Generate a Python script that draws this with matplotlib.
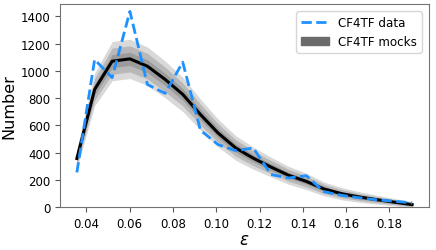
import numpy as np
import matplotlib.pyplot as plt
from matplotlib.patches import Patch

# bin centres in epsilon
eps = [0.0356, 0.0438, 0.0519, 0.0601, 0.0682, 0.0764, 0.0845, 0.0927, 0.1008, 0.1090,
       0.1171, 0.1253, 0.1334, 0.1416, 0.1497, 0.1579, 0.1660, 0.1742, 0.1823, 0.1905]

# CF4TF data counts
data_n = [256, 1083, 950, 1436, 900, 835, 1064, 565, 460, 415,
          435, 240, 215, 232, 115, 88, 70, 55, 45, 32]

# mean of the mocks and its scatter
mock_mean = [358, 864, 1071, 1088, 1034, 937, 828, 680, 545, 435,
             360, 295, 235, 190, 135, 100, 76, 56, 38, 20]
mock_sig = [25, 40, 48, 48, 47, 45, 42, 38, 34, 30,
            27, 24, 22, 20, 17, 15, 13, 11, 9, 7]

eps = np.array(eps)
mock_mean = np.array(mock_mean)
mock_sig = np.array(mock_sig)

fig = plt.figure(figsize=(4.36, 2.51), dpi=100)
ax = fig.add_axes([0.1376, 0.170, 0.8464, 0.810])

for k in [3, 2, 1]:
    ax.fill_between(eps, mock_mean - k * mock_sig, mock_mean + k * mock_sig,
                    color='k', alpha=0.15, lw=0)
ax.plot(eps, mock_mean, color='k', lw=2.2, zorder=3)
ax.plot(eps, data_n, color='dodgerblue', ls='--', lw=2, zorder=4)

handles = [plt.Line2D([], [], color='dodgerblue', ls='--', lw=2),
           Patch(color='0.42')]
ax.legend(handles, ['CF4TF data', 'CF4TF mocks'], loc='upper right', fontsize=8.6,
          handlelength=2.3, borderaxespad=0.6)

ax.set_ylim(0, 1490)
ax.set_xlim(0.0278, 0.1983)
ax.set_yticks([0, 200, 400, 600, 800, 1000, 1200, 1400])
ax.set_xticks([0.04, 0.06, 0.08, 0.10, 0.12, 0.14, 0.16, 0.18])
ax.tick_params(labelsize=8.5, color='0.35')
for s in ax.spines.values():
    s.set_color('0.45')
ax.set_xlabel(r'$\epsilon$', fontsize=12, labelpad=0)
ax.set_ylabel('Number', fontsize=11.5, labelpad=3)

plt.savefig('out.png', dpi=100)
